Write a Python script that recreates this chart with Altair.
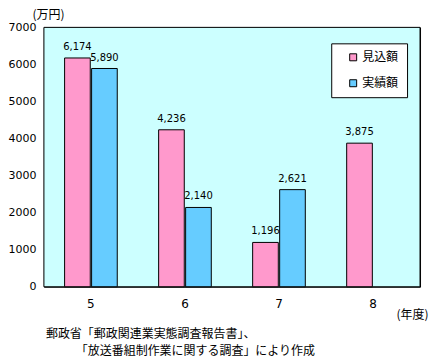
import altair as alt
import pandas as pd

years = ["5", "6", "7", "8"]
series = ["見込額", "実績額"]
expected = [6174, 4236, 1196, 3875]
actual = [5890, 2140, 2621, None]
colors = ["#FF99CC", "#66CCFF"]
y_ticks = [0, 1000, 2000, 3000, 4000, 5000, 6000, 7000]

rows = []
for i, y in enumerate(years):
    for s, vals in zip(series, [expected, actual]):
        v = vals[i]
        if v is not None:
            rows.append({"year": y, "series": s, "value": v})
df = pd.DataFrame(rows)

JP = "Noto Sans CJK JP"
NUM = "DejaVu Sans"
W, H = 377, 260

base = alt.Chart(df).encode(
    x=alt.X("year:N", sort=years,
            scale=alt.Scale(paddingInner=0.44, paddingOuter=0.22),
            axis=alt.Axis(title="(年度)", labelAngle=0, ticks=False, domain=False,
                          labelPadding=12, labelFont=NUM, labelFontSize=12,
                          labelColor="black",
                          titleAngle=0, titleAlign="left", titleBaseline="middle",
                          titleX=353, titleY=28, titleFont=JP, titleFontSize=12,
                          titleFontWeight="normal", titleColor="black")),
    xOffset=alt.XOffset("series:N", sort=series, scale=alt.Scale(paddingInner=0.05)),
    y=alt.Y("value:Q", scale=alt.Scale(domain=[0, 7000], nice=False),
            axis=alt.Axis(title="(万円)", values=y_ticks, format="d", grid=False,
                          ticks=False, domain=False, labelPadding=8,
                          labelFont=NUM, labelFontSize=11, labelColor="black",
                          titleAngle=0, titleAlign="left", titleBaseline="middle",
                          titleX=-12, titleY=-13, titleFont=JP, titleFontSize=12,
                          titleFontWeight="normal", titleColor="black")),
)

# plot-area background frame
frame = alt.Chart(pd.DataFrame({"f": [0]})).mark_bar(
    fillOpacity=1, strokeOpacity=1
).encode(
    x=alt.value(0), x2=alt.value(W), y=alt.value(0), y2=alt.value(H),
    fill=alt.value("#ccffff"), stroke=alt.value("#000000"),
    strokeWidth=alt.value(1),
)

bars = base.mark_bar(stroke="black", strokeWidth=1).encode(
    color=alt.Color("series:N", sort=series,
                    scale=alt.Scale(domain=series, range=colors),
                    legend=alt.Legend(title=None, orient="none", legendX=288, legendY=16,
                                      symbolType="square", symbolSize=49,
                                      symbolStrokeColor="black", symbolStrokeWidth=1,
                                      labelFont=JP, labelFontSize=12, labelColor="black",
                                      rowPadding=14, padding=8, symbolOffset=8,
                                      labelOffset=3,
                                      fillColor="white", strokeColor="black"))
)

labels = base.mark_text(baseline="alphabetic", dy=-8, font=NUM, fontSize=10,
                        color="black").encode(
    text=alt.Text("value:Q", format=",")
)

chart = alt.layer(frame, bars, labels).properties(
    width=W, height=H,
    padding={"left": 0, "top": 0, "right": 0, "bottom": 0},
    title=alt.TitleParams(
        text=["郵政省「郵政関連業実態調査報告書」、",
              "\u200b\u3000\u3000\u3000「放送番組制作業に関する調査」により作成"],
        orient="bottom", anchor="start", frame="group", dx=2, offset=8,
        font=JP, fontSize=12, fontWeight="normal", color="black", lineHeight=17),
).configure_view(fill="#ccffff", stroke="#000000", strokeWidth=1)

chart.save("out.html", embed_options={"renderer": "svg", "actions": False})
